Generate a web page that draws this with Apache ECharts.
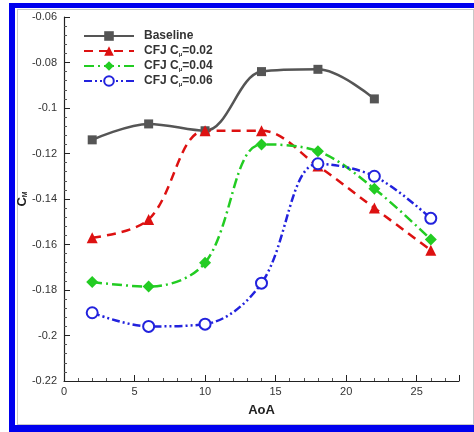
<!DOCTYPE html>
<html>
<head>
<meta charset="utf-8">
<script src="https://cdn.jsdelivr.net/npm/echarts@6/dist/echarts.min.js"></script>
<style>
  html, body { margin: 0; padding: 0; background: #fff; overflow: hidden; }
  #wrap { position: relative; width: 474px; height: 432px; overflow: hidden; }
  #frame {
    position: absolute; left: 9px; top: 3px; width: 520px; height: 417px;
    border-left: 6px solid #0000ee; border-top: 5px solid #0000ee; border-bottom: 7px solid #0000ee;
  }
  #inner {
    position: absolute; left: 17px; top: 9px; width: 455px; height: 414px;
    border: 1px solid #c8c8c8;
  }
  #chart { position: absolute; left: 0; top: 0; width: 474px; height: 432px; }
</style>
</head>
<body>
<div id="wrap">
  <div id="frame"></div>
  <div id="inner"></div>
  <div id="chart"></div>
</div>
<script>
// Angle of attack (deg) for each case
const aoa = [2, 6, 10, 14, 18, 22, 26];
const baselineAoA = [2, 6, 10, 14, 18, 22];

// Pitching moment coefficient C_M
const baseline = [-0.114, -0.107, -0.110, -0.084, -0.083, -0.096];
const cfj002 = [-0.157, -0.149, -0.110, -0.110, -0.1255, -0.144, -0.1625];
const cfj004 = [-0.1765, -0.1785, -0.168, -0.116, -0.119, -0.1355, -0.1578];
const cfj006 = [-0.190, -0.196, -0.195, -0.177, -0.1245, -0.130, -0.1485];

const seriesNames = ['Baseline', 'CFJ Cμ=0.02', 'CFJ Cμ=0.04', 'CFJ Cμ=0.06'];

const pairs = (xs, ys) => xs.map((x, i) => [x, ys[i]]);

const chart = echarts.init(document.getElementById('chart'), null, { renderer: 'canvas' });

const font = '"Liberation Sans", Arial, sans-serif';
const smoothness = 0.35;

chart.setOption({
  backgroundColor: 'transparent',
  animation: false,
  grid: { left: 64, top: 17, right: 15, bottom: 51 },
  legend: {
    orient: 'vertical',
    left: 83,
    top: 30,
    padding: 0,
    itemWidth: 50,
    itemHeight: 12,
    itemGap: 3,
    data: seriesNames,
    formatter: name => name.replace('Cμ', 'C{sub|μ}'),
    textStyle: {
      fontFamily: font, fontSize: 12, fontWeight: 'bold', color: '#333',
      padding: [0, 0, 0, 5],
      rich: {
        sub: { fontFamily: font, fontSize: 6, fontWeight: 'bold', color: '#333', verticalAlign: 'bottom', padding: [6, 0, 0, 0] }
      }
    }
  },
  xAxis: {
    type: 'value',
    min: 0, max: 28, interval: 5,
    name: 'AoA',
    nameLocation: 'middle',
    nameGap: 23,
    nameTextStyle: { fontFamily: font, fontSize: 13, fontWeight: 'bold', color: '#222' },
    axisLine: { onZero: false, lineStyle: { color: '#222', width: 1.2 } },
    axisTick: { inside: true, length: 6, lineStyle: { color: '#222' } },
    minorTick: { show: true, splitNumber: 5, length: 3, lineStyle: { color: '#555' } },
    splitLine: { show: false },
    axisLabel: {
      fontFamily: font, fontSize: 11, color: '#333', margin: 5,
      formatter: v => (v % 5 === 0 ? String(v) : '')
    }
  },
  yAxis: {
    type: 'value',
    min: -0.22, max: -0.06, interval: 0.02,
    name: 'C{sub|M}',
    nameLocation: 'middle',
    nameRotate: 90,
    nameGap: 35,
    nameMoveOverlap: false,
    nameTextStyle: {
      fontFamily: font, fontSize: 13, fontWeight: 'bold', color: '#222',
      rich: {
        sub: { fontFamily: font, fontSize: 7, fontWeight: 'bold', color: '#222', verticalAlign: 'bottom', padding: [6, 0, 0, 0] }
      }
    },
    axisLine: { onZero: false, lineStyle: { color: '#222', width: 1.2 } },
    axisTick: { inside: true, length: 6, lineStyle: { color: '#222' } },
    minorTick: { show: true, splitNumber: 5, length: 3, lineStyle: { color: '#555' } },
    splitLine: { show: false },
    axisLabel: {
      fontFamily: font, fontSize: 11, color: '#333', margin: 7,
      formatter: v => String(parseFloat(v.toFixed(2)))
    }
  },
  series: [
    {
      name: seriesNames[0], type: 'line', smooth: smoothness,
      data: pairs(baselineAoA, baseline),
      symbol: 'rect', symbolSize: 9,
      lineStyle: { color: '#555555', width: 2.5 },
      itemStyle: { color: '#555555' }
    },
    {
      name: seriesNames[1], type: 'line', smooth: smoothness,
      data: pairs(aoa, cfj002),
      symbol: 'triangle', symbolSize: 11,
      lineStyle: { color: '#dd1111', width: 2.5, type: [9, 6] },
      itemStyle: { color: '#dd1111' }
    },
    {
      name: seriesNames[2], type: 'line', smooth: smoothness,
      data: pairs(aoa, cfj004),
      symbol: 'diamond', symbolSize: 12,
      lineStyle: { color: '#22cc22', width: 2.5, type: [10, 4, 2, 4] },
      itemStyle: { color: '#22cc22' }
    },
    {
      name: seriesNames[3], type: 'line', smooth: smoothness,
      data: pairs(aoa, cfj006),
      symbol: 'emptyCircle', symbolSize: 11,
      lineStyle: { color: '#2222dd', width: 2.5, type: [8, 3, 2, 3, 2, 3] },
      itemStyle: { color: '#2222dd', borderColor: '#2222dd', borderWidth: 1.5 }
    }
  ]
});
</script>
</body>
</html>
